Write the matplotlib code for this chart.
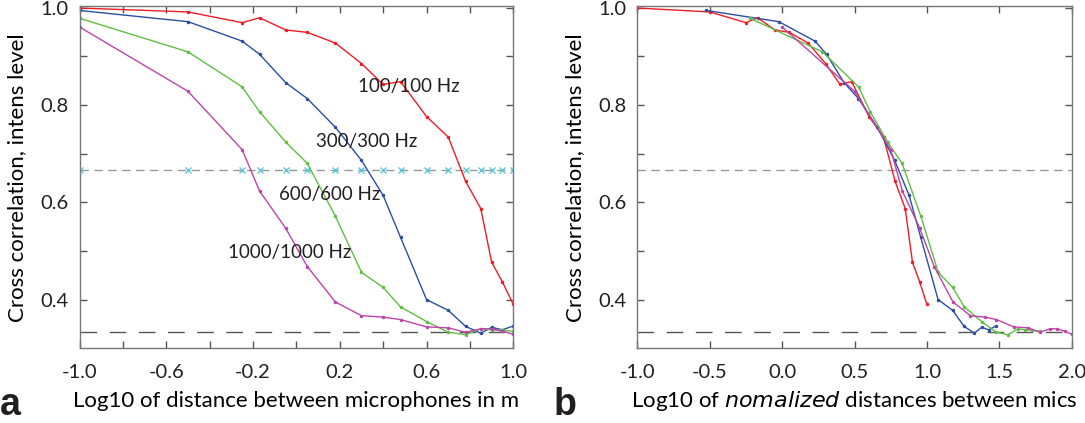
import numpy as np
import matplotlib
matplotlib.use("Agg")
import matplotlib.pyplot as plt

plt.rcParams['font.family'] = ['Lato', 'DejaVu Sans']

# log10 of distance between microphones (m)
log_dist = [-1.0, -0.5, -0.25, -0.17, -0.05, 0.05, 0.18, 0.30, 0.40, 0.48,
            0.60, 0.70, 0.78, 0.85, 0.90, 0.95, 1.0]

# cross correlation per frequency band
cc_100 = [0.999, 0.991, 0.969, 0.979, 0.954, 0.949, 0.927, 0.885, 0.842, 0.848,
          0.776, 0.734, 0.643, 0.587, 0.477, 0.436, 0.390]
cc_300 = [0.994, 0.971, 0.931, 0.904, 0.846, 0.813, 0.754, 0.686, 0.614, 0.528,
          0.400, 0.378, 0.345, 0.331, 0.343, 0.338, 0.346]
cc_600 = [0.978, 0.909, 0.837, 0.786, 0.724, 0.680, 0.571, 0.456, 0.425, 0.385,
          0.355, 0.333, 0.328, 0.340, 0.338, 0.337, 0.335]
cc_1000 = [0.960, 0.828, 0.708, 0.623, 0.547, 0.468, 0.395, 0.367, 0.364, 0.359,
           0.344, 0.342, 0.333, 0.340, 0.340, 0.335, 0.329]

band_labels = ["100/100 Hz", "300/300 Hz", "600/600 Hz", "1000/1000 Hz"]
# shift of log10 distance used for the normalized plot (log10 of f/100)
norm_shift = [0.0, 0.477, 0.778, 1.0]

colors = ["#ee1d24", "#2c4ea2", "#62bd45", "#bd44a8"]
label_pos = [(0.285, 0.838), (0.092, 0.725), (-0.08, 0.616), (-0.315, 0.496)]

upper_level = 2.0 / 3.0
lower_level = 1.0 / 3.0

fig = plt.figure(figsize=(10.85, 4.23), dpi=100)
ax_a = fig.add_axes([0.0733, 0.1766, 0.3998, 0.809])
ax_b = fig.add_axes([0.5874, 0.1766, 0.4004, 0.809])

series = [cc_100, cc_300, cc_600, cc_1000]

# panel a
for cc, col in zip(series, colors):
    ax_a.plot(log_dist, cc, color=col, lw=1.0, marker='.', ms=3)
ax_a.plot(log_dist, [upper_level] * len(log_dist), color='#999999', lw=1.0,
          dashes=(6, 4), marker='x', ms=5, mec='#5cc6dc', mew=1.0, zorder=1)
ax_a.axhline(lower_level, color='#555555', lw=1.0, dashes=(12, 9), zorder=1)
for (tx, ty), txt in zip(label_pos, band_labels):
    ax_a.text(tx, ty, txt, fontsize=13.5, color='#231f20', va='center', ha='left')
ax_a.set_xlim(-1.0, 1.0)
ax_a.set_xticks(np.arange(-1.0, 1.01, 0.2), minor=True)
ax_a.set_xticks([-1.0, -0.6, -0.2, 0.2, 0.6, 1.0])
ax_a.set_xticklabels(["-1.0", "-0.6", "-0.2", "0.2", "0.6", "1.0"])
ax_a.set_xlabel("Log10 of distance between microphones in m", fontsize=16)

# panel b
for cc, col, sh in zip(series, colors, norm_shift):
    ax_b.plot([x + sh for x in log_dist], cc, color=col, lw=1.0, marker='.', ms=3)
ax_b.axhline(upper_level, color='#999999', lw=1.0, dashes=(6, 4), zorder=1)
ax_b.axhline(lower_level, color='#555555', lw=1.0, dashes=(12, 9), zorder=1)
ax_b.set_xlim(-1.0, 2.0)
ax_b.set_xticks([-1.0, -0.5, 0.0, 0.5, 1.0, 1.5, 2.0])
ax_b.set_xticklabels(["-1.0", "-0.5", "0.0", "0.5", "1.0", "1.5", "2.0"])
ax_b.set_xlabel("Log10 of $\\it{nomalized}$ distances between mics", fontsize=16)

for ax in (ax_a, ax_b):
    ax.set_ylim(0.3, 1.003)
    ax.set_yticks([0.5, 0.7, 0.9], minor=True)
    ax.set_yticks([0.4, 0.6, 0.8, 1.0])
    ax.set_yticklabels(["0.4", "0.6", "0.8", "1.0"])
    ax.set_ylabel("Cross correlation, intens level", fontsize=16)
    ax.yaxis.set_label_coords(-0.144, 0.5)
    ax.yaxis.label.set_va('center')
    ax.xaxis.set_label_coords(0.5, -0.153)
    ax.xaxis.label.set_va('center')
    ax.tick_params(which='both', direction='in', top=True, right=True,
                   length=5, width=1.0, color='#555555', labelsize=14.5,
                   labelcolor='#231f20')
    ax.tick_params(axis='x', pad=11)
    ax.tick_params(axis='y', pad=8)
    for sp in ax.spines.values():
        sp.set_color('#777777')
        sp.set_linewidth(1.0)

fig.text(0.0, 0.02, "a", fontsize=27, fontweight='bold', family='Liberation Sans',
         color='#231f20', ha='left', va='baseline')
fig.text(0.51, 0.02, "b", fontsize=27, fontweight='bold', family='Liberation Sans',
         color='#231f20', ha='left', va='baseline')

fig.savefig("out.png", dpi=100)
